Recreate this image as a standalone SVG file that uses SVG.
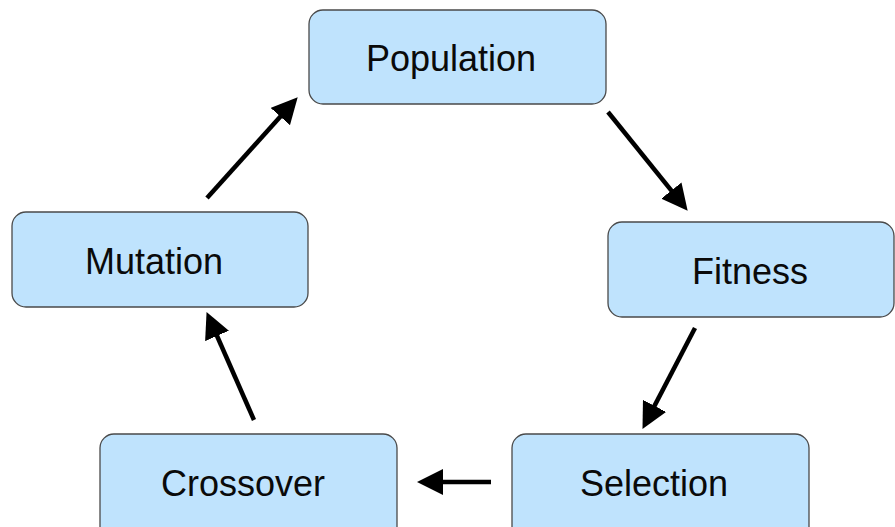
<svg xmlns="http://www.w3.org/2000/svg" width="895" height="527" viewBox="0 0 895 527">
  <style>
    .box { fill: #bfe3fd; stroke: #4a4a4a; stroke-width: 1.3; }
    .lbl { font-family: "Liberation Sans", Arial, sans-serif; font-size: 36px; fill: #0a0a0a; text-anchor: middle; }
    .arr { stroke: #000; stroke-width: 4.5; fill: none; marker-end: url(#head); }
  </style>
  <defs>
    <marker id="head" markerUnits="userSpaceOnUse" markerWidth="26" markerHeight="26" viewBox="0 0 24 24" refX="12" refY="12" orient="auto">
      <path d="M0,0 L24,12 L0,24 z" fill="#000"/>
    </marker>
  </defs>
  <rect width="895" height="527" fill="#fff"/>
  <g id="population">
    <rect class="box" x="309" y="10" width="297" height="94" rx="14"/>
    <text class="lbl" x="451" y="71">Population</text>
  </g>
  <g id="fitness">
    <rect class="box" x="608" y="222" width="286" height="95" rx="14"/>
    <text class="lbl" x="750" y="284">Fitness</text>
  </g>
  <g id="selection">
    <rect class="box" x="512" y="434" width="297" height="110" rx="14"/>
    <text class="lbl" x="654" y="496">Selection</text>
  </g>
  <g id="crossover">
    <rect class="box" x="100" y="434" width="297" height="110" rx="14"/>
    <text class="lbl" x="243" y="496">Crossover</text>
  </g>
  <g id="mutation">
    <rect class="box" x="12" y="212" width="296" height="95" rx="14"/>
    <text class="lbl" x="154" y="274">Mutation</text>
  </g>
  <g id="connectors">
    <line class="arr" x1="608" y1="112" x2="679.5" y2="200.7"/>
    <line class="arr" x1="695" y1="328" x2="648.5" y2="417.4"/>
    <line class="arr" x1="491" y1="482" x2="430" y2="482"/>
    <line class="arr" x1="254" y1="420" x2="211.8" y2="324"/>
    <line class="arr" x1="207" y1="198" x2="289" y2="106.9"/>
  </g>
</svg>
